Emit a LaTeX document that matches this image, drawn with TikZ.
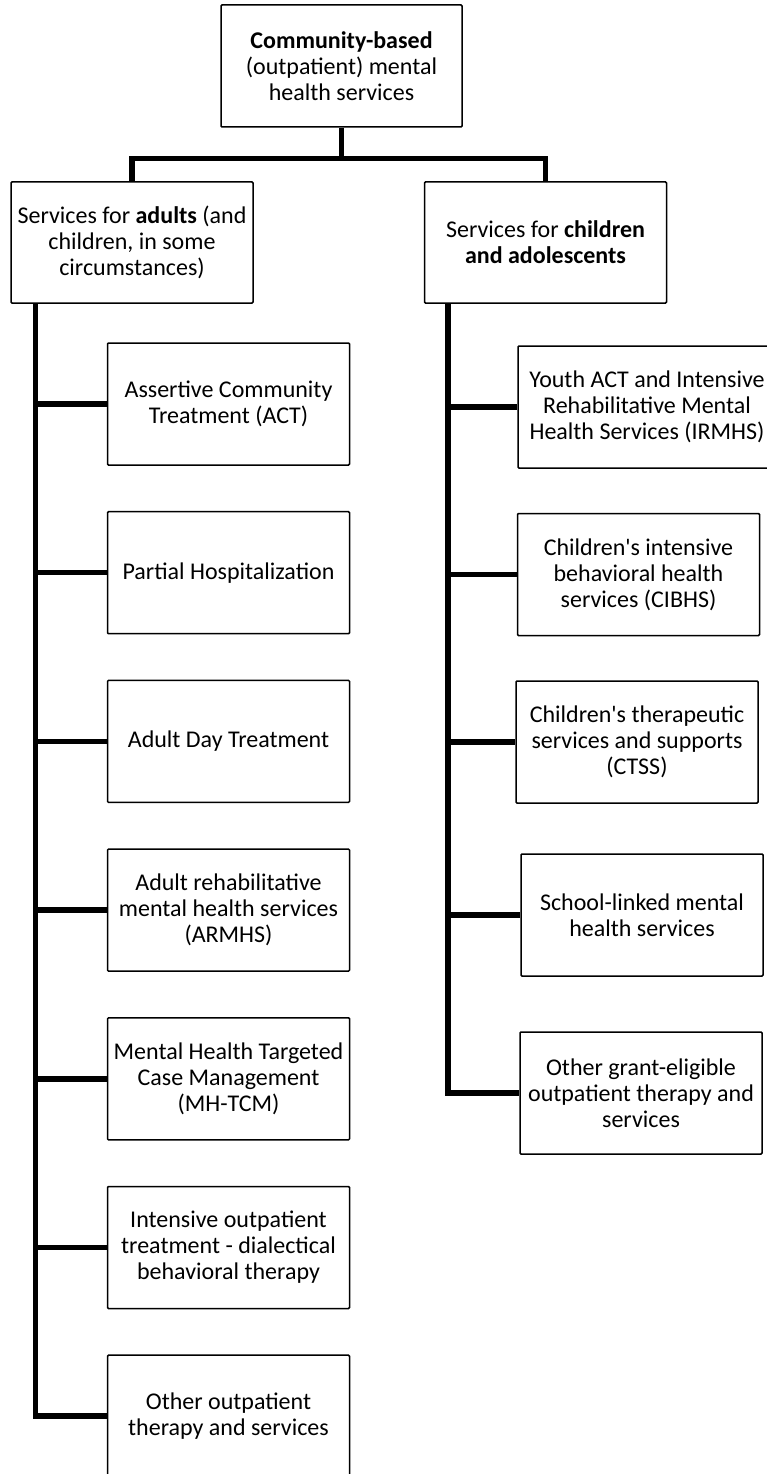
\documentclass[tikz,border=0pt]{standalone}
\usepackage{fontspec}
\setmainfont{Carlito}
\usetikzlibrary{calc}
\begin{document}
\begin{tikzpicture}[x=1pt,y=-1pt,
  box/.style={draw=black, line width=1.5pt, fill=white, rounded corners=1pt,
    minimum width=242pt, minimum height=122pt, align=center, inner sep=0pt,
    font=\fontsize{24}{26}\selectfont},
  conn/.style={draw=black, line width=5.5pt, line join=miter}]
\useasboundingbox (0,0) rectangle (767,1474);

\node[box, minimum width=241pt] (top) at (341.5,66) {\textbf{Community-based}\\(outpatient) mental\\health services};
\node[box, minimum height=121pt] (adults) at (132,242.5) {Services for \textbf{adults} (and\\children, in some\\circumstances)};
\node[box, minimum height=121pt] (kids) at (545.5,242.5) {Services for \textbf{children}\\\textbf{and adolescents}};

\node[box] (a1) at (228.5,404) {Assertive Community\\Treatment (ACT)};
\node[box] (a2) at (228.5,572.7) {Partial Hospitalization};
\node[box] (a3) at (228.5,741.4) {Adult Day Treatment};
\node[box] (a4) at (228.5,910.1) {Adult rehabilitative\\mental health services\\(ARMHS)};
\node[box] (a5) at (228.5,1078.8) {Mental Health Targeted\\Case Management\\(MH-TCM)};
\node[box] (a6) at (228.5,1247.5) {Intensive outpatient\\treatment - dialectical\\behavioral therapy};
\node[box] (a7) at (228.5,1416.2) {Other outpatient\\therapy and services};

\node[box, minimum width=258pt] (k1) at (647,407) {Youth ACT and Intensive\\Rehabilitative Mental\\Health Services (IRMHS)};
\node[box] (k2) at (638.5,574.5) {Children\textquotesingle s intensive\\behavioral health\\services (CIBHS)};
\node[box] (k3) at (637,742) {Children\textquotesingle s therapeutic\\services and supports\\(CTSS)};
\node[box] (k4) at (642,915) {School-linked mental\\health services};
\node[box] (k5) at (641,1093) {Other grant-eligible\\outpatient therapy and\\services};

% top level connectors
\coordinate (bar) at ($(top.south)+(0,31)$);
\draw[conn] (top.south) -- (bar) -| (adults.north);
\draw[conn] (bar) -| (kids.north);

% adults spine
\coordinate (ls) at ($(adults.south west)+(25,0)$);
\draw[conn] (ls) |- (a7.west);
\foreach \n in {a1,a2,a3,a4,a5,a6}{
  \draw[conn] (ls |- \n.west) -- (\n.west);
}

% kids spine
\coordinate (rs) at ($(kids.south west)+(24,0)$);
\draw[conn] (rs) |- (k5.west);
\foreach \n in {k1,k2,k3,k4}{
  \draw[conn] (rs |- \n.west) -- (\n.west);
}
\end{tikzpicture}
\end{document}
